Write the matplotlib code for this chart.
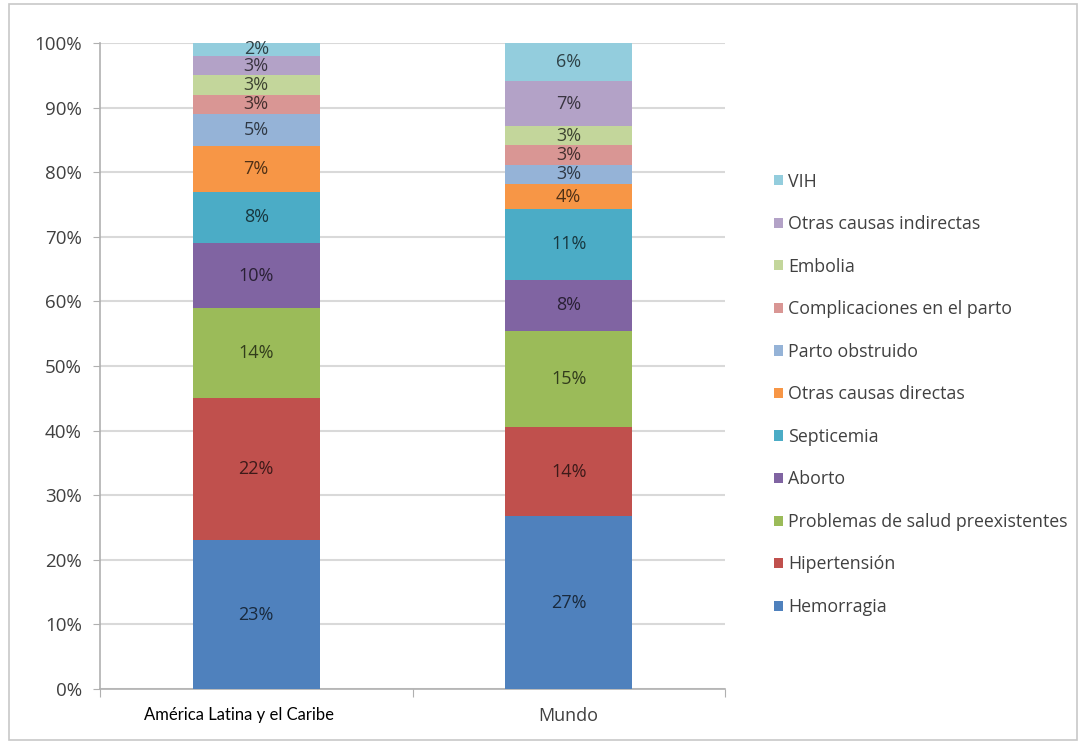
import numpy as np
import matplotlib
matplotlib.use("Agg")
import matplotlib.pyplot as plt
from matplotlib.patches import Rectangle
from matplotlib.colors import to_rgb
from matplotlib.transforms import ScaledTranslation

# regions (x axis)
regions = ["América Latina y el Caribe", "Mundo"]

# causes, bottom to top of the stack
causes = ["Hemorragia", "Hipertensión", "Problemas de salud preexistentes",
          "Aborto", "Septicemia", "Otras causas directas", "Parto obstruido",
          "Complicaciones en el parto", "Embolia", "Otras causas indirectas", "VIH"]

# percentages per cause, one list per region
alc = [23, 22, 14, 10, 8, 7, 5, 3, 3, 3, 2]
mundo = [27, 14, 15, 8, 11, 4, 3, 3, 3, 7, 6]

colors = ["#4F81BD", "#C0504D", "#9BBB59", "#8064A2", "#4BACC6", "#F79646",
          "#95B3D7", "#D99694", "#C3D69B", "#B3A2C7", "#93CDDD"]

plt.rcParams["font.family"] = ["Open Sans", "DejaVu Sans"]

fig = plt.figure(figsize=(10.83, 7.44), dpi=100)
ax = fig.add_axes([100 / 1083, 55 / 744, 625 / 1083, 646 / 744])

# outer chart border
fig.add_artist(Rectangle((9 / 1083, 4 / 744), 1068 / 1083, 736 / 744,
                         transform=fig.transFigure, fill=False,
                         edgecolor="#c8c8c8", linewidth=1.2))

data = np.array([alc, mundo], dtype=float)
shares = data / data.sum(axis=1, keepdims=True) * 100  # 100% stacked
x = np.arange(len(regions))
bottom = np.zeros(len(regions))
for i, cause in enumerate(causes):
    ax.bar(x, shares[:, i], 0.405, bottom=bottom, color=colors[i],
           label=cause, zorder=3)
    dark = tuple(c * 0.32 for c in to_rgb(colors[i]))
    for j in range(len(regions)):
        ax.text(x[j], bottom[j] + shares[j, i] / 2, f"{int(data[j, i])}%",
                ha="center", va="center", fontsize=13, color=dark, zorder=4)
    bottom += shares[:, i]

ax.set_xlim(-0.5, 1.5)
ax.set_ylim(0, 100)
ax.set_yticks(np.arange(0, 101, 10))
ax.set_yticklabels([f"{v}%" for v in range(0, 101, 10)], fontsize=13.5, color="#404040")
ax.yaxis.grid(True, color="#d9d9d9", linewidth=1.5, zorder=0)
ax.tick_params(axis="y", length=5, color="#b0b0b0", pad=8)

ax.set_xticks([-0.5, 0.5, 1.5])
ax.set_xticklabels([])
ax.set_xticks(x, minor=True)
ax.set_xticklabels(regions, minor=True)
ax.tick_params(axis="x", which="major", length=6, color="#b0b0b0")
ax.tick_params(axis="x", which="minor", length=0, pad=13)
lbl_alc, lbl_mundo = ax.get_xticklabels(minor=True)
lbl_alc.set_fontfamily(["Lato", "DejaVu Sans"])
lbl_alc.set_fontsize(12)
lbl_alc.set_color("#000000")
lbl_alc.set_transform(lbl_alc.get_transform() + ScaledTranslation(-0.17, 0, fig.dpi_scale_trans))
lbl_mundo.set_fontsize(13)
lbl_mundo.set_color("#404040")

for side in ["top", "right"]:
    ax.spines[side].set_visible(False)
for side in ["left", "bottom"]:
    ax.spines[side].set_color("#b0b0b0")
    ax.spines[side].set_linewidth(1.2)

handles, labels = ax.get_legend_handles_labels()
leg = fig.legend(handles[::-1], labels[::-1], loc="center left",
                 bbox_to_anchor=(758 / 1083, 0.47), frameon=False,
                 fontsize=12.8, labelspacing=1.38, handlelength=0.5,
                 handleheight=0.5, handletextpad=0.3)
for t in leg.get_texts():
    t.set_color("#404040")

fig.savefig("out.png", dpi=100)
